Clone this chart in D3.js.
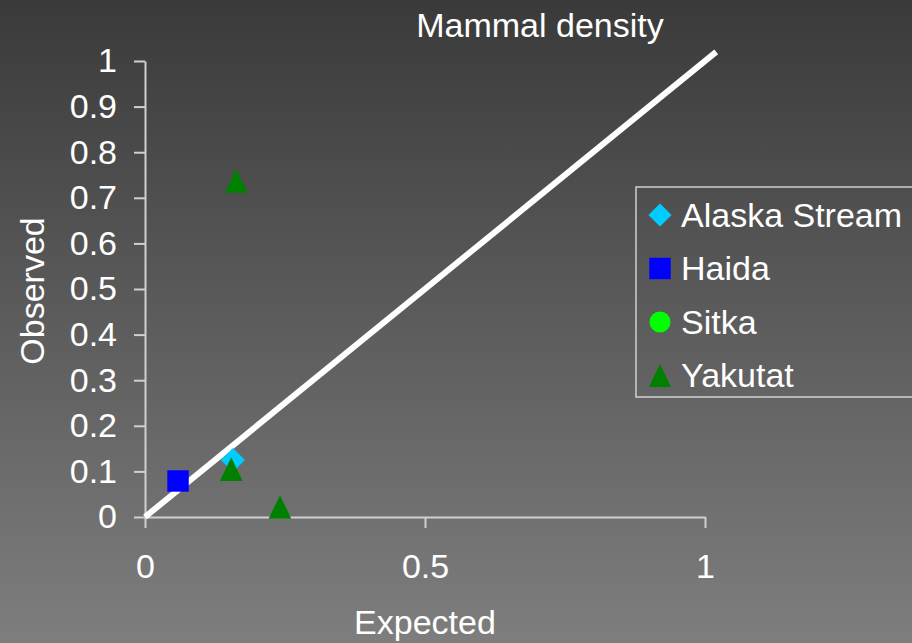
<!DOCTYPE html>
<html>
<head>
<meta charset="utf-8">
<script src="https://cdn.jsdelivr.net/npm/d3@7"></script>
<style>
  body { margin: 0; overflow: hidden; }
  text { font-family: 'Liberation Sans', Arial, sans-serif; fill: #ffffff; }
</style>
</head>
<body>
<div id="chart"></div>
<script>
const series = ['Alaska Stream', 'Haida', 'Sitka', 'Yakutat']
const colors = ['#00ccff', '#0000ff', '#00ff00', '#008000']
const points = [
  { s: 'Alaska Stream', x: 0.157, y: 0.125 },
  { s: 'Haida', x: 0.059, y: 0.079 },
  { s: 'Yakutat', x: 0.163, y: 0.737 },
  { s: 'Yakutat', x: 0.154, y: 0.105 },
  { s: 'Yakutat', x: 0.241, y: 0.022 }
]
const xTicks = [0, 0.5, 1]
const yTicks = [0, 0.1, 0.2, 0.3, 0.4, 0.5, 0.6, 0.7, 0.8, 0.9, 1]
const lineEnd = 1.02

const width = 912
const height = 643

// Excel 风格三角形：以包围盒为中心，宽 23 高 24
const excelTriangle = {
  draw(context, size) {
    const w = Math.sqrt(size) * 0.96 / 2
    const h = Math.sqrt(size) / 2
    context.moveTo(0, -h)
    context.lineTo(w, h)
    context.lineTo(-w, h)
    context.closePath()
  }
}
const symbols = [d3.symbolSquare, d3.symbolSquare, d3.symbolCircle, excelTriangle]
const rotations = [45, 0, 0, 0]
const symbolSizes = [290, 460, 350, 560]
const legendSizes = [270, 460, 350, 530]

const svg = d3.select('#chart')
  .append('svg')
  .attr('width', width)
  .attr('height', height)

const grad = svg.append('defs').append('linearGradient')
  .attr('id', 'bg')
  .attr('x1', 0).attr('y1', 0).attr('x2', 0).attr('y2', 1)
grad.append('stop').attr('offset', '0%').attr('stop-color', '#3a3a3a')
grad.append('stop').attr('offset', '100%').attr('stop-color', '#7e7e7e')

svg.append('rect')
  .attr('width', width)
  .attr('height', height)
  .attr('fill', 'url(#bg)')

const xScale = d3.scaleLinear().domain([0, 1]).range([145, 705])
const yScale = d3.scaleLinear().domain([0, 1]).range([517, 61])

const fmt = d => d === 0 || d === 1 ? d3.format('d')(d) : d3.format('.1f')(d)

// y轴
const yAxis = d3.axisLeft(yScale).tickValues(yTicks).tickSize(11).tickSizeOuter(0).tickFormat(fmt)
const yAxisg = svg.append('g')
  .attr('transform', `translate(${xScale(0)}, 0)`)
  .call(yAxis)
yAxisg.select('.domain').attr('stroke', '#d0d0d0').attr('stroke-width', 2)
yAxisg.selectAll('.tick line').attr('stroke', '#d0d0d0').attr('stroke-width', 2)
yAxisg.selectAll('.tick text')
  .attr('x', -28)
  .style('font-size', '34px')
  .style('fill', '#ffffff')

// x轴
const xAxis = d3.axisBottom(xScale).tickValues(xTicks).tickSize(11).tickSizeOuter(0).tickFormat(fmt)
const xAxisg = svg.append('g')
  .attr('transform', `translate(0, ${yScale(0)})`)
  .call(xAxis)
xAxisg.select('.domain').attr('stroke', '#d0d0d0').attr('stroke-width', 2)
xAxisg.selectAll('.tick line').attr('stroke', '#d0d0d0').attr('stroke-width', 2)
xAxisg.selectAll('.tick text')
  .attr('y', 37)
  .style('font-size', '34px')
  .style('fill', '#ffffff')

// 1:1 线
svg.append('line')
  .attr('x1', xScale(0)).attr('y1', yScale(0))
  .attr('x2', xScale(lineEnd)).attr('y2', yScale(lineEnd))
  .attr('stroke', '#ffffff')
  .attr('stroke-width', 6)

// 点
svg.append('g').selectAll('path')
  .data(points)
  .enter()
  .append('path')
  .attr('transform', d => {
    const i = series.indexOf(d.s)
    return `translate(${xScale(d.x)}, ${yScale(d.y)}) rotate(${rotations[i]})`
  })
  .attr('d', d => {
    const i = series.indexOf(d.s)
    return d3.symbol().type(symbols[i]).size(symbolSizes[i])()
  })
  .attr('fill', d => colors[series.indexOf(d.s)])

// 标题
svg.append('text')
  .attr('x', 540).attr('y', 37)
  .attr('text-anchor', 'middle')
  .style('font-size', '34px')
  .text('Mammal density')

svg.append('text')
  .attr('x', 425).attr('y', 634)
  .attr('text-anchor', 'middle')
  .style('font-size', '34px')
  .text('Expected')

svg.append('text')
  .attr('transform', `translate(44, 291) rotate(-90)`)
  .attr('text-anchor', 'middle')
  .style('font-size', '34px')
  .text('Observed')

// 图例
svg.append('rect')
  .attr('x', 636).attr('y', 187)
  .attr('width', 290).attr('height', 210)
  .attr('fill', 'none')
  .attr('stroke', '#cfcfcf')
  .attr('stroke-width', 1.5)

const legend = svg.append('g')
const item = legend.selectAll('g')
  .data(series)
  .enter()
  .append('g')
  .attr('transform', (d, i) => `translate(660, ${215 + i * 53.5})`)

item.append('path')
  .attr('transform', (d, i) => `rotate(${rotations[i]})`)
  .attr('d', (d, i) => d3.symbol().type(symbols[i]).size(legendSizes[i])())
  .attr('fill', (d, i) => colors[i])

item.append('text')
  .attr('x', 21)
  .attr('dy', '0.35em')
  .style('font-size', '34px')
  .text(d => d)
</script>
</body>
</html>
